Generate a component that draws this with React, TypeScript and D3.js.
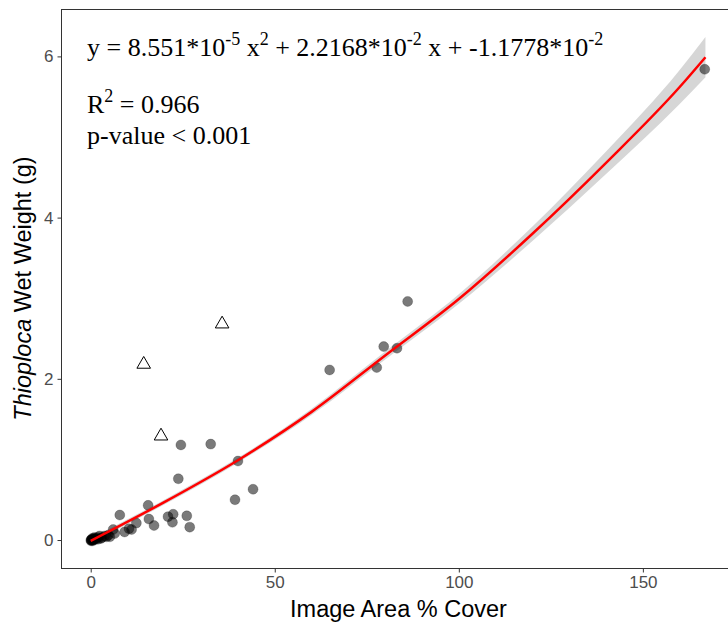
import React, { useEffect, useRef } from 'react';
import * as d3 from 'd3';

// observed samples (filled circles)
const circleX = [166.8, 86.1, 83.2, 79.6, 77.7, 64.9, 44.1, 40.0, 39.2, 32.6, 24.5, 23.8, 26.1, 26.9, 22.4, 22.2, 21.0, 17.2, 15.8, 15.6, 12.4, 11.1, 10.4, 9.2, 7.9, 6.5, 6.1, 5.2, 4.8, 4.3, 3.8, 3.0, 2.8, 2.4, 2.0, 1.8, 1.4, 1.1, 1.0, 0.8, 0.6, 0.5, 0.4, 0.3, 0.2, 0.1, 0.05];
const circleY = [5.84, 2.96, 2.38, 2.40, 2.14, 2.11, 0.63, 0.98, 0.50, 1.19, 1.18, 0.76, 0.30, 0.16, 0.32, 0.22, 0.29, 0.18, 0.26, 0.43, 0.21, 0.13, 0.14, 0.10, 0.31, 0.08, 0.13, 0.04, 0.06, 0.04, 0.05, 0.03, 0.02, 0.05, 0.01, 0.03, 0.01, 0.02, 0.03, 0.0, 0.01, -0.01, 0.02, 0.005, 0.0, -0.01, 0.0];

// excluded samples (open triangles)
const triX = [14.4, 35.7, 19.1];
const triY = [2.18, 2.68, 1.29];

// fitted curve + standard error band
const fitX = [0, 20, 40, 60, 80, 100, 120, 140, 160, 167];
const fitY = [-0.01, 0.47, 0.99, 1.59, 2.29, 2.99, 3.80, 4.68, 5.62, 5.99];
const fitSe = [0.03, 0.03, 0.03, 0.04, 0.05, 0.06, 0.09, 0.14, 0.21, 0.25];

const xTicks = [0, 50, 100, 150];
const yTicks = [0, 2, 4, 6];

// equation text: [normal, superscript]
const eqParts = [
  ['y = 8.551*10', '-5'],
  [' x', '2'],
  [' + 2.2168*10', '-2'],
  [' x + -1.1778*10', '-2'],
];

export default function App() {
  const ref = useRef<SVGSVGElement>(null);

  useEffect(() => {
    const width = 728, height = 622;
    const panel = { left: 61, top: 9, right: 736, bottom: 568 };

    const x = d3.scaleLinear().domain([-8.07, 175.3]).range([panel.left, panel.right]);
    const y = d3.scaleLinear().domain([-0.347, 6.588]).range([panel.bottom, panel.top]);

    const svg = d3.select(ref.current);
    svg.selectAll('*').remove();
    svg.attr('width', width).attr('height', height);

    svg.append('rect').attr('width', width).attr('height', height).attr('fill', 'white');

    const fit = fitX.map((d, i) => ({ x: d, y: fitY[i], se: fitSe[i] }));

    // ribbon
    const band = d3.area<any>()
      .curve(d3.curveMonotoneX)
      .x(d => x(d.x))
      .y0(d => y(d.y - d.se))
      .y1(d => y(d.y + d.se));
    svg.append('path').datum(fit)
      .attr('fill', '#999999').attr('fill-opacity', 0.4)
      .attr('d', band);

    // points
    const pts = circleX.map((d, i) => ({ x: d, y: circleY[i] }));
    svg.append('g').selectAll('circle').data(pts).join('circle')
      .attr('cx', d => x(d.x)).attr('cy', d => y(d.y)).attr('r', 5)
      .attr('fill', 'black').attr('fill-opacity', 0.52)
      .attr('stroke', 'black').attr('stroke-opacity', 0.25).attr('stroke-width', 0.8);

    const tri = triX.map((d, i) => ({ x: d, y: triY[i] }));
    svg.append('g').selectAll('path').data(tri).join('path')
      .attr('transform', d => `translate(${x(d.x)},${y(d.y)})`)
      .attr('d', d3.symbol(d3.symbolTriangle, 80)())
      .attr('fill', 'none').attr('stroke', 'black').attr('stroke-width', 1);

    // fitted line
    const line = d3.line<any>().curve(d3.curveMonotoneX).x(d => x(d.x)).y(d => y(d.y));
    svg.append('path').datum(fit)
      .attr('fill', 'none').attr('stroke', '#FF0000').attr('stroke-width', 2.5)
      .attr('d', line);

    // panel border
    svg.append('rect')
      .attr('x', panel.left + 0.5).attr('y', panel.top + 0.5)
      .attr('width', panel.right - panel.left).attr('height', panel.bottom - panel.top)
      .attr('fill', 'none').attr('stroke', '#333333').attr('stroke-width', 1);

    // axes
    const xAxis = svg.append('g').attr('transform', `translate(0,${panel.bottom + 0.5})`)
      .call(d3.axisBottom(x).tickValues(xTicks).tickFormat(d3.format('d')).tickSize(4).tickPadding(3));
    const yAxis = svg.append('g').attr('transform', `translate(${panel.left + 0.5},0)`)
      .call(d3.axisLeft(y).tickValues(yTicks).tickFormat(d3.format('d')).tickSize(4).tickPadding(4));
    [xAxis, yAxis].forEach(g => {
      g.select('.domain').remove();
      g.selectAll('line').attr('stroke', '#333333');
      g.selectAll('text')
        .attr('fill', '#4D4D4D')
        .style('font-family', '"Liberation Sans", Arial, sans-serif')
        .style('font-size', '17px');
    });

    // axis titles
    svg.append('text')
      .attr('x', (panel.left + panel.right) / 2).attr('y', 617)
      .attr('text-anchor', 'middle')
      .style('font-family', '"Liberation Sans", Arial, sans-serif')
      .style('font-size', '23.5px')
      .text('Image Area % Cover');

    const yt = svg.append('text')
      .attr('transform', `translate(31,${(panel.top + panel.bottom) / 2}) rotate(-90)`)
      .attr('text-anchor', 'middle')
      .style('font-family', '"Liberation Sans", Arial, sans-serif')
      .style('font-size', '23.5px');
    yt.append('tspan').style('font-style', 'italic').text('Thioploca');
    yt.append('tspan').text(' Wet Weight (g)');

    // annotation
    const serif = '"Liberation Serif", "Times New Roman", serif';
    const rise = 11;
    const eq = svg.append('text').attr('x', 87).attr('y', 56)
      .style('font-family', serif).style('font-size', '26px');
    eqParts.forEach(([t, s], i) => {
      eq.append('tspan').attr('dy', i === 0 ? 0 : rise).text(t);
      eq.append('tspan').attr('dy', -rise).style('font-size', '18px').text(s);
    });

    const r2 = svg.append('text').attr('x', 87).attr('y', 113)
      .style('font-family', serif).style('font-size', '26px');
    r2.append('tspan').text('R');
    r2.append('tspan').attr('dy', -rise).style('font-size', '18px').text('2');
    r2.append('tspan').attr('dy', rise).text(' = 0.966');

    svg.append('text').attr('x', 87).attr('y', 144)
      .style('font-family', serif).style('font-size', '26px')
      .text('p-value < 0.001');
  }, []);

  return (
    <svg ref={ref} style={{ position: 'absolute', left: 0, top: 0, display: 'block' }} />
  );
}
